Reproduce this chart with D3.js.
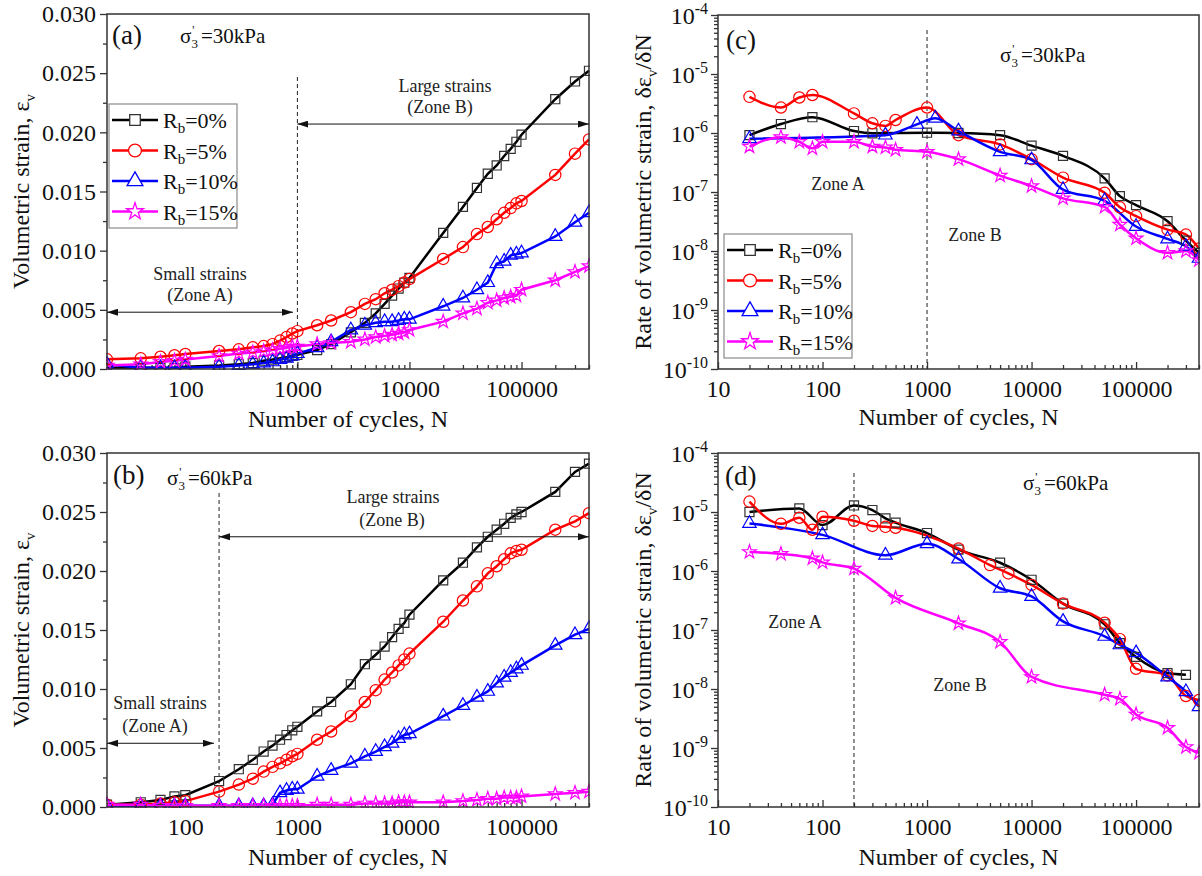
<!DOCTYPE html>
<html>
<head>
<meta charset="utf-8">
<script src="https://cdn.jsdelivr.net/npm/d3@7"></script>
<style>
  html, body { margin: 0; padding: 0; background: #fff; }
  svg { display: block; font-family: "Liberation Serif", "Times New Roman", serif; }
</style>
</head>
<body>
<svg id="chart" width="1202" height="876"></svg>
<script>
// ---------------------------------------------------------------- data
const rbLabels = ['0%', '5%', '10%', '15%'];

// cycles shared by the strain curves of panels (a) and (b)
const cyclesAB = [20, 40, 60, 80, 100, 200, 300, 400, 500, 600, 700, 800, 900, 1000, 1500,
  2000, 3000, 4000, 5000, 6000, 7000, 8000, 9000, 10000, 20000, 30000, 40000, 50000, 60000,
  70000, 80000, 90000, 100000, 200000, 300000, 400000];

// (a) sigma'3 = 30 kPa, volumetric strain
const strainA0  = [0.0001, 0.0001, 0.0001, 0.0001, 0.0002, 0.0003, 0.0004, 0.0005, 0.0007, 0.0008, 0.0009, 0.0010, 0.0011, 0.0012, 0.0016,
  0.0021, 0.0031, 0.0039, 0.0047, 0.0055, 0.0062, 0.0068, 0.0073, 0.0077, 0.0115, 0.0137, 0.0153, 0.0165, 0.0172,
  0.0180, 0.0186, 0.0192, 0.0198, 0.0228, 0.0243, 0.0252];
const strainA5  = [0.00082, 0.0009, 0.00104, 0.00116, 0.00127, 0.00152, 0.00166, 0.00183, 0.00194, 0.0021, 0.0024, 0.0027, 0.0030, 0.0032, 0.0037,
  0.0041, 0.0048, 0.0055, 0.0059, 0.0064, 0.0067, 0.0070, 0.0073, 0.0076, 0.0093, 0.0103, 0.0114, 0.0120, 0.01265,
  0.0132, 0.0136, 0.0140, 0.0142, 0.0164, 0.0182, 0.0194];
const strainA10 = [0.0004, 0.0001, 0.0001, 0.0001, 0.0001, 0.0002, 0.0003, 0.0004, 0.0005, 0.0006, 0.0008, 0.0009, 0.0011, 0.0013, 0.0018,
  0.0023, 0.0033, 0.0037, 0.0039, 0.0040, 0.0040, 0.0041, 0.0042, 0.0042, 0.0053, 0.0060, 0.0067, 0.0073, 0.0089,
  0.0091, 0.0096, 0.0097, 0.0098, 0.0112, 0.0124, 0.0132];
const strainA15 = [0.0003, 0.0004, 0.0006, 0.0007, 0.0008, 0.0011, 0.0013, 0.0014, 0.0015, 0.0016, 0.0017, 0.0018, 0.0019, 0.0019, 0.0021,
  0.0022, 0.0023, 0.0025, 0.0027, 0.0028, 0.0029, 0.0030, 0.0031, 0.0033, 0.0040, 0.0047, 0.0051, 0.0056, 0.0058,
  0.0060, 0.0061, 0.0062, 0.0067, 0.0075, 0.0082, 0.0087];

// (b) sigma'3 = 60 kPa, volumetric strain
const strainB0  = [0.0002, 0.0004, 0.0006, 0.0009, 0.0010, 0.0022, 0.0032, 0.0040, 0.0047, 0.0052, 0.0057, 0.0061, 0.0065, 0.0068, 0.0081,
  0.0089, 0.0104, 0.0121, 0.0129, 0.0136, 0.0144, 0.0151, 0.0156, 0.0163, 0.0192, 0.0207, 0.0220, 0.0229, 0.0235,
  0.0240, 0.0245, 0.0248, 0.0250, 0.0267, 0.0284, 0.0291];
const strainB5  = [0.0002, 0.0002, 0.0003, 0.0004, 0.0005, 0.0013, 0.0019, 0.0024, 0.0030, 0.0034, 0.0037, 0.0040, 0.0043, 0.0045, 0.0057,
  0.0064, 0.0077, 0.0089, 0.0099, 0.0108, 0.0114, 0.0120, 0.0125, 0.0130, 0.0157, 0.0175, 0.0187, 0.0198, 0.0204,
  0.0210, 0.0215, 0.0217, 0.0218, 0.0235, 0.0242, 0.0249];
const strainB10 = [0.0001, 0.0001, 0.0001, 0.0001, 0.0001, 0.0001, 0.0001, 0.0001, 0.0001, 0.0002, 0.0012, 0.0014, 0.0015, 0.0015, 0.0026,
  0.0031, 0.0037, 0.0043, 0.0047, 0.0051, 0.0054, 0.0058, 0.0061, 0.0062, 0.0077, 0.0086, 0.0093, 0.0098, 0.0105,
  0.0110, 0.0114, 0.0117, 0.0120, 0.0137, 0.0146, 0.0151];
const strainB15 = [0.0002, 0.0002, 0.0001, 0.0001, 0.0001, 0.0001, 0.0001, 0.0001, 0.0001, 0.0001, 0.0001, 0.0001, 0.0001, 0.0001, 0.0002,
  0.0002, 0.0002, 0.0003, 0.0003, 0.0003, 0.0003, 0.0004, 0.0004, 0.0004, 0.0004, 0.0005, 0.0006, 0.0007, 0.0007,
  0.0008, 0.0008, 0.0008, 0.0009, 0.0011, 0.0012, 0.0013];

// (c) sigma'3 = 30 kPa, rate of volumetric strain
const cyclesC0  = [20, 40, 80, 200, 300, 1000, 2000, 5000, 10000, 20000, 50000, 70000, 100000, 200000, 300000, 400000];
const rateC0    = [9.2e-7, 1.42e-6, 1.85e-6, 1.08e-6, 9.9e-7, 1.01e-6, 1.0e-6, 9.2e-7, 6.1e-7, 4.1e-7, 1.7e-7, 8.5e-8, 6.0e-8, 3.2e-8, 1.5e-8, 9.3e-9];
const cyclesC5  = [20, 40, 60, 80, 200, 300, 400, 500, 1000, 2000, 5000, 10000, 20000, 50000, 70000, 100000, 200000, 300000, 400000];
const rateC5    = [4.1e-6, 2.7e-6, 4.0e-6, 4.4e-6, 2.15e-6, 1.46e-6, 1.32e-6, 1.66e-6, 2.7e-6, 9.2e-7, 6.4e-7, 3.6e-7, 1.75e-7, 9.7e-8, 5.5e-8, 3.9e-8, 2.3e-8, 1.9e-8, 1.1e-8];
const cyclesC10 = [20, 400, 800, 1200, 2000, 5000, 10000, 20000, 50000, 100000, 200000, 300000, 400000];
const rateC10   = [8.0e-7, 9.2e-7, 1.4e-6, 1.78e-6, 1.08e-6, 4.8e-7, 3.5e-7, 1.1e-7, 7.1e-8, 2.6e-8, 1.6e-8, 1.2e-8, 7.5e-9];
const cyclesC15 = [20, 40, 60, 80, 100, 200, 300, 400, 500, 1000, 2000, 5000, 10000, 20000, 50000, 70000, 100000, 200000, 300000, 400000];
const rateC15   = [5.9e-7, 8.5e-7, 7.1e-7, 5.5e-7, 7.1e-7, 7.1e-7, 5.9e-7, 5.7e-7, 5.2e-7, 4.8e-7, 3.6e-7, 1.9e-7, 1.26e-7, 7.8e-8, 5.6e-8, 2.8e-8, 1.64e-8, 9.3e-9, 1.0e-8, 7.0e-9];

// (d) sigma'3 = 60 kPa, rate of volumetric strain
const cyclesD0  = [20, 60, 100, 200, 300, 400, 500, 1000, 2000, 5000, 10000, 20000, 50000, 70000, 100000, 200000, 300000];
const rateD0    = [1.0e-5, 1.15e-5, 6.0e-6, 1.29e-5, 1.08e-5, 7.8e-6, 6.6e-6, 4.4e-6, 2.3e-6, 1.38e-6, 7.1e-7, 2.8e-7, 1.25e-7, 6.0e-8, 3.5e-8, 1.86e-8, 1.74e-8];
const cyclesD5  = [20, 40, 60, 80, 100, 200, 300, 400, 500, 2000, 4000, 6000, 10000, 20000, 50000, 70000, 100000, 200000, 300000, 400000];
const rateD5    = [1.5e-5, 6.3e-6, 8.0e-6, 5.0e-6, 8.3e-6, 7.1e-6, 5.8e-6, 5.6e-6, 5.4e-6, 2.4e-6, 1.26e-6, 9.1e-7, 5.8e-7, 2.8e-7, 1.33e-7, 7.0e-8, 2.2e-8, 1.7e-8, 7.6e-9, 6.5e-9];
const cyclesD10 = [20, 100, 400, 1000, 2000, 5000, 10000, 20000, 50000, 70000, 100000, 200000, 300000, 400000];
const rateD10   = [6.4e-6, 4.1e-6, 1.85e-6, 2.9e-6, 1.6e-6, 5.1e-7, 3.7e-7, 1.4e-7, 7.8e-8, 5.6e-8, 4.1e-8, 1.6e-8, 9.0e-9, 5.0e-9];
const cyclesD15 = [20, 40, 80, 100, 200, 500, 2000, 5000, 10000, 50000, 70000, 100000, 200000, 300000, 400000];
const rateD15   = [2.1e-6, 1.95e-6, 1.64e-6, 1.4e-6, 1.1e-6, 3.5e-7, 1.3e-7, 6.3e-8, 1.6e-8, 8.0e-9, 6.8e-9, 3.7e-9, 2.2e-9, 1.04e-9, 8.3e-10];

// zone boundaries (cycles) and axis ticks
const zoneLimit30 = 1000;
const zoneLimit60 = 200;
const strainTicks = [0, 0.005, 0.010, 0.015, 0.020, 0.025, 0.030];
const cycleTicksAB = [100, 1000, 10000, 100000];
const cycleTicksCD = [10, 100, 1000, 10000, 100000];
const rateExponents = [-10, -9, -8, -7, -6, -5, -4];

// ---------------------------------------------------------------- styles
const lineColors   = ['#000000', '#ff0000', '#0000ff', '#ff00ff'];
const symbolStroke = ['#333333', '#ff0000', '#0000ff', '#ff00ff'];
const symbolTypes  = [d3.symbolSquare, d3.symbolCircle, d3.symbolTriangle, d3.symbolStar];
const symbolSizes  = [82, 100, 78, 58];
const axisColor    = '#333';
const serif        = 'Liberation Serif, serif';

const svg = d3.select('#chart');
const defs = svg.append('defs');
defs.append('marker')
  .attr('id', 'arrowhead')
  .attr('viewBox', '0 0 11 7')
  .attr('refX', 11).attr('refY', 3.5)
  .attr('markerWidth', 11).attr('markerHeight', 7)
  .attr('markerUnits', 'userSpaceOnUse')
  .attr('orient', 'auto-start-reverse')
  .append('path').attr('d', 'M0,0 L11,3.5 L0,7 Z').attr('fill', '#111');

// minor ticks of a log axis: 2..9 times each decade inside the domain
function logMinors(domain) {
  const out = [];
  const lo = Math.floor(Math.log10(domain[0])), hi = Math.ceil(Math.log10(domain[1]));
  for (let e = lo; e <= hi; e++) {
    for (let k = 2; k <= 9; k++) {
      const v = k * Math.pow(10, e);
      if (v >= domain[0] && v <= domain[1]) out.push(v);
    }
  }
  return out;
}

function styleAxis(sel) {
  sel.select('.domain').remove();
  sel.selectAll('line').attr('stroke', axisColor).attr('stroke-width', 1.3);
}

// one panel of the figure
function makePanel(o) {
  const w = o.width, h = o.height;
  const g = svg.append('g').attr('transform', `translate(${o.left},${o.top})`);
  const x = d3.scaleLog().domain(o.xDomain).range([0, w]);
  const y = o.logY
    ? d3.scaleLog().domain([1e-10, 1e-4]).range([h, 0])
    : d3.scaleLinear().domain([0, 0.03]).range([h, 0]);

  g.append('clipPath').attr('id', 'clip-' + o.id)
    .append('rect').attr('x', -1).attr('y', -1).attr('width', w + 2).attr('height', h + 2);

  // x axis: ticks point inward
  const xMajor = g.append('g').attr('transform', `translate(0,${h})`)
    .call(d3.axisBottom(x).tickValues(o.xTicks).tickFormat(d3.format('d')).tickSize(-7));
  xMajor.selectAll('text').attr('dy', null).attr('y', 28)
    .attr('font-size', 24).attr('fill', '#111').attr('font-family', serif);
  styleAxis(xMajor);
  const xMinor = g.append('g').attr('transform', `translate(0,${h})`)
    .call(d3.axisBottom(x).tickValues(logMinors(o.xDomain)).tickFormat('').tickSize(-4));
  styleAxis(xMinor);

  // y axis: ticks point outward
  if (o.logY) {
    const vals = rateExponents.map(e => Math.pow(10, e));
    const yMajor = g.append('g').call(d3.axisLeft(y).tickValues(vals).tickFormat('').tickSize(7));
    styleAxis(yMajor);
    yMajor.selectAll('.tick').each(function (d) {
      const t = d3.select(this).append('text')
        .attr('x', -10).attr('dy', '0.35em').attr('text-anchor', 'end')
        .attr('fill', '#111').attr('font-size', 24).attr('font-family', serif);
      t.append('tspan').text('10');
      t.append('tspan').attr('font-size', 16).attr('dy', -10).text(String(Math.round(Math.log10(d))));
    });
    const yMinor = g.append('g').call(d3.axisLeft(y).tickValues(logMinors([1e-10, 1e-4])).tickFormat('').tickSize(4));
    styleAxis(yMinor);
  } else {
    const yMajor = g.append('g')
      .call(d3.axisLeft(y).tickValues(strainTicks).tickFormat(d3.format('.3f')).tickSize(7).tickPadding(4));
    yMajor.selectAll('text').attr('font-size', 24).attr('fill', '#111').attr('font-family', serif);
    styleAxis(yMajor);
    const minors = d3.range(0, 6).map(i => 0.0025 + i * 0.005);
    const yMinor = g.append('g').call(d3.axisLeft(y).tickValues(minors).tickFormat('').tickSize(4));
    styleAxis(yMinor);
  }

  // zone boundary
  g.append('line')
    .attr('x1', x(o.zoneLimit)).attr('x2', x(o.zoneLimit))
    .attr('y1', o.dashTop).attr('y2', h)
    .attr('stroke', '#222').attr('stroke-width', 1).attr('stroke-dasharray', '4,3');

  // series
  const plot = g.append('g').attr('clip-path', `url(#clip-${o.id})`);
  const line = d3.line().x(d => x(d[0])).y(d => y(d[1]))
    .curve(o.smooth ? d3.curveMonotoneX : d3.curveLinear);
  o.series.forEach((s, i) => {
    const pts = s.cycles.map((n, j) => [n, s.values[j]]);
    plot.append('path').datum(pts).attr('d', line)
      .attr('fill', 'none').attr('stroke', lineColors[i]).attr('stroke-width', 2.5);
  });
  o.series.forEach((s, i) => {
    const pts = s.cycles.map((n, j) => [n, s.values[j]]);
    plot.selectAll(null).data(pts).enter().append('path')
      .attr('d', d3.symbol().type(symbolTypes[i]).size(symbolSizes[i]))
      .attr('transform', d => `translate(${x(d[0])},${y(d[1])})`)
      .attr('fill', 'none').attr('stroke', symbolStroke[i]).attr('stroke-width', 1.2);
  });

  // frame
  g.append('rect').attr('width', w).attr('height', h)
    .attr('fill', 'none').attr('stroke', axisColor).attr('stroke-width', 1.5);

  // axis titles
  g.append('text').attr('x', w / 2).attr('y', o.xTitleY).attr('text-anchor', 'middle')
    .attr('font-size', 24).attr('fill', '#111').text('Number of cycles, N');
  const yt = g.append('text')
    .attr('transform', `translate(${o.yTitleX},${h / 2}) rotate(-90)`)
    .attr('text-anchor', 'middle').attr('font-size', 24).attr('fill', '#111');
  if (o.logY) {
    yt.append('tspan').text('Rate of volumetric strain, \u03b4\u03b5');
    yt.append('tspan').attr('font-size', 15).attr('dy', 6).text('v');
    yt.append('tspan').attr('dy', -6).text('/\u03b4N');
  } else {
    yt.append('tspan').text('Volumetric strain, \u03b5');
    yt.append('tspan').attr('font-size', 15).attr('dy', 6).text('v');
  }

  // panel tag and confining pressure
  g.append('text').attr('x', o.tag[1]).attr('y', o.tag[2]).attr('font-size', 27).attr('fill', '#111').text(o.tag[0]);
  const st = g.append('text').attr('x', o.sigma[1]).attr('y', o.sigma[2]).attr('font-size', 21).attr('fill', '#111');
  st.append('tspan').text('\u03c3');
  st.append('tspan').attr('font-size', 12).attr('dx', 1).attr('dy', -9).text("'");
  st.append('tspan').attr('font-size', 13).attr('dx', -3).attr('dy', 14).text('3');
  st.append('tspan').attr('dx', 3).attr('dy', -5).text('=' + o.sigma[0] + 'kPa');

  // zone notes
  o.notes.forEach(n => {
    g.append('text').attr('x', n[1]).attr('y', n[2]).attr('text-anchor', 'middle')
      .attr('font-size', 18).attr('fill', '#222').text(n[0]);
  });
  (o.arrows || []).forEach(a => {
    g.append('line')
      .attr('x1', a[3] != null ? a[3] : x(a[0]))
      .attr('x2', a[4] != null ? a[4] : x(a[1]))
      .attr('y1', y(a[2])).attr('y2', y(a[2]))
      .attr('stroke', '#111').attr('stroke-width', 1)
      .attr('marker-start', 'url(#arrowhead)').attr('marker-end', 'url(#arrowhead)');
  });

  // legend
  if (o.legend) {
    const L = o.legend;
    const lg = g.append('g').attr('transform', `translate(${L.x},${L.y})`);
    lg.append('rect').attr('width', 128).attr('height', 124)
      .attr('fill', '#fff').attr('stroke', '#8a8a8a').attr('stroke-width', 1.2);
    rbLabels.forEach((lab, i) => {
      const cy = 16 + i * 30.5;
      lg.append('line').attr('x1', 3).attr('x2', 49).attr('y1', cy).attr('y2', cy)
        .attr('stroke', lineColors[i]).attr('stroke-width', 2.6);
      lg.append('path').attr('d', d3.symbol().type(symbolTypes[i]).size(symbolSizes[i] + 30))
        .attr('transform', `translate(26,${cy})`)
        .attr('fill', '#fff').attr('stroke', symbolStroke[i]).attr('stroke-width', 1.3);
      const t = lg.append('text').attr('x', 54).attr('y', cy + 8).attr('font-size', 22).attr('fill', '#111');
      t.append('tspan').text('R');
      t.append('tspan').attr('font-size', 15).attr('dy', 5).text('b');
      t.append('tspan').attr('dy', -5).text('=' + lab);
    });
  }
}

const seriesOf = (cycles, vals) => vals.map((v, i) => ({ cycles: Array.isArray(cycles[0]) ? cycles[i] : cycles, values: v }));

makePanel({
  id: 'a', left: 107, top: 14, width: 482, height: 355,
  xDomain: [20, 400000], xTicks: cycleTicksAB, logY: false, smooth: false,
  series: seriesOf(cyclesAB, [strainA0, strainA5, strainA10, strainA15]),
  zoneLimit: zoneLimit30, dashTop: 63,
  xTitleY: 413, yTitleX: -78,
  tag: ['(a)', 5, 30], sigma: ['30', 73, 29],
  notes: [['Large strains', 338, 78], ['(Zone B)', 333, 99], ['Small strains', 93, 266], ['(Zone A)', 93, 287]],
  arrows: [[zoneLimit30, 400000, 0.0207, null, 482], [20, 1000, 0.0048, 0, 186]],
  legend: { x: 2, y: 90 }
});

makePanel({
  id: 'b', left: 107, top: 453, width: 482, height: 354,
  xDomain: [20, 400000], xTicks: cycleTicksAB, logY: false, smooth: false,
  series: seriesOf(cyclesAB, [strainB0, strainB5, strainB10, strainB15]),
  zoneLimit: zoneLimit60, dashTop: 40,
  xTitleY: 412, yTitleX: -78,
  tag: ['(b)', 6, 31], sigma: ['60', 60, 32],
  notes: [['Large strains', 286, 50], ['(Zone B)', 285, 73], ['Small strains', 53, 256], ['(Zone A)', 48, 279]],
  arrows: [[zoneLimit60, 400000, 0.0229, null, 482], [20, 200, 0.0054, 0, 107]]
});

makePanel({
  id: 'c', left: 718, top: 15, width: 481, height: 354,
  xDomain: [10, 400000], xTicks: cycleTicksCD, logY: true, smooth: true,
  series: seriesOf([cyclesC0, cyclesC5, cyclesC10, cyclesC15], [rateC0, rateC5, rateC10, rateC15]),
  zoneLimit: zoneLimit30, dashTop: 15,
  xTitleY: 410, yTitleX: -67,
  tag: ['(c)', 8, 34], sigma: ['30', 282, 47],
  notes: [['Zone A', 120, 175], ['Zone B', 257, 226]],
  legend: { x: 6, y: 219 }
});

makePanel({
  id: 'd', left: 718, top: 453, width: 481, height: 354,
  xDomain: [10, 400000], xTicks: cycleTicksCD, logY: true, smooth: true,
  series: seriesOf([cyclesD0, cyclesD5, cyclesD10, cyclesD15], [rateD0, rateD5, rateD10, rateD15]),
  zoneLimit: zoneLimit60, dashTop: 20,
  xTitleY: 412, yTitleX: -67,
  tag: ['(d)', 7, 32], sigma: ['60', 305, 37],
  notes: [['Zone A', 77, 175], ['Zone B', 242, 238]]
});
</script>
</body>
</html>
